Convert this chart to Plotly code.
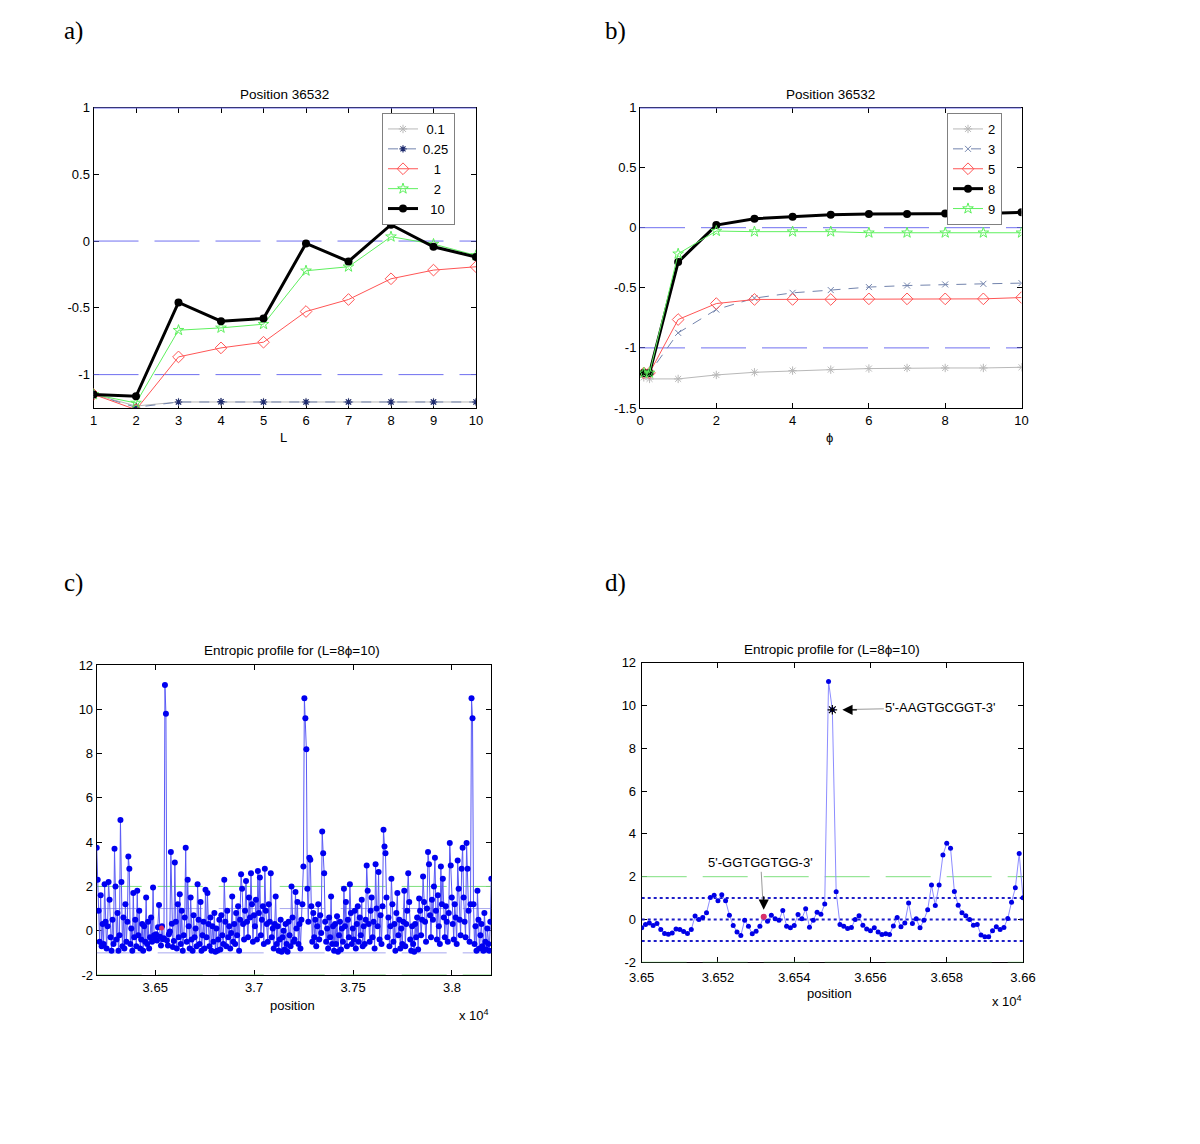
import plotly.graph_objects as go

W, H = 1200, 1144
OX, OY = 8, 8  # page body margin offset
FONT = "Liberation Sans, Arial, sans-serif"
SERIF = "Liberation Serif, Times New Roman, serif"
FS = 13

# ---------------- data ----------------
# panel a : x = L, one series per phi
L_vals = [1, 2, 3, 4, 5, 6, 7, 8, 9, 10]
a_names = ["\u00a00.1", "0.25", "\u00a0\u00a0\u00a01", "\u00a0\u00a0\u00a02", "\u00a0\u00a010"]
a_phi_01 = [-1.148, -1.235, -1.205, -1.205, -1.205, -1.205, -1.205, -1.205, -1.205, -1.205]
a_phi_025 = [-1.148, -1.245, -1.205, -1.203, -1.205, -1.205, -1.205, -1.205, -1.205, -1.205]
a_phi_1 = [-1.148, -1.2625, -0.8675, -0.80, -0.7575, -0.5275, -0.4375, -0.2825, -0.2175, -0.1925]
a_phi_2 = [-1.148, -1.2125, -0.6675, -0.65, -0.6225, -0.2225, -0.1925, 0.0325, -0.0225, -0.1075]
a_phi_10 = [-1.148, -1.1625, -0.46, -0.60, -0.58, -0.0175, -0.1525, 0.1225, -0.0425, -0.12]
a_yticks = [-1, -0.5, 0, 0.5, 1]
a_yticktext = ["-1", "-0.5", "0", "0.5", "1"]
a_yrange = [-1.25, 1]
a_ref_levels = [0, -1]
a_top_level = 1

# panel b : x = phi, one series per L
phi_vals = [0.1, 0.25, 1, 2, 3, 4, 5, 6, 7, 8, 9, 10]
b_names = ["2", "3", "5", "8", "9"]
b_L2 = [-1.245, -1.258, -1.258, -1.225, -1.203, -1.189, -1.181, -1.172, -1.167, -1.167, -1.167, -1.161]
b_L3 = [-1.208, -1.208, -0.875, -0.681, -0.586, -0.542, -0.519, -0.494, -0.481, -0.472, -0.467, -0.461]
b_L5 = [-1.208, -1.208, -0.764, -0.631, -0.597, -0.597, -0.597, -0.592, -0.592, -0.592, -0.592, -0.581]
b_L8 = [-1.208, -1.208, -0.286, 0.022, 0.075, 0.092, 0.108, 0.114, 0.114, 0.119, 0.119, 0.128]
b_L9 = [-1.208, -1.208, -0.217, -0.028, -0.033, -0.033, -0.033, -0.042, -0.042, -0.042, -0.042, -0.042]
b_xrange = [0, 10]
b_xticks = [0, 2, 4, 6, 8, 10]
b_yticks = [-1.5, -1, -0.5, 0, 0.5, 1]
b_yticktext = ["-1.5", "-1", "-0.5", "0", "0.5", "1"]
b_yrange = [-1.5, 1]

# panel c : entropic profile 36204..38199 (every 5th position)
c_start = 36204
c_step = 5
c_vals = [
    3.75, 2.3, 0.9, -0.5, 1.6, -0.7, 0.3, -0.6, 2.1, 0.4,
    -0.8, 0.2, 2.2, 1.4, -0.3, -0.9, 0.5, -0.6, 3.7, 2.0,
    -0.4, 0.8, -0.9, -0.2, 5.0, 2.2, -0.7, 0.6, -0.8, 1.2,
    -0.5, 0.4, 3.35, 2.8, -0.6, 0.1, -0.9, 1.7, -0.3, 0.5,
    -0.7, 1.8, -0.2, 0.9, -0.8, -0.4, 0.3, -0.9, 0.2, -0.5,
    1.5, -0.6, 0.4, -0.8, -0.3, 0.6, -0.5, 1.95, -0.2, -0.4,
    -0.16, -0.44, 0.16, 1.16, -0.27, -0.67, 0.2, -0.39, -0.34, 11.1,
    9.8, -0.44, -0.67, -0.16, -0.03, 3.56, 0.31, -0.73, -0.47, 3.08,
    0.4, -0.8, 1.2, -0.3, 1.65, -0.6, 0.9, -0.9, -0.2, 0.6,
    3.75, -0.5, 2.3, 0.2, -0.8, 1.5, -0.4, -0.9, 0.7, -0.3,
    0.1, -0.7, 2.1, 0.5, -0.6, 1.3, -0.9, -0.2, 0.4, -0.8,
    1.85, -0.3, 1.7, 0.3, -0.7, 0.6, -0.9, 0.2, -0.5, 0.8,
    -0.95, 0.1, -0.9, -0.4, 0.5, -0.85, 0.7, -0.2, -0.6, 2.3,
    0.4, -0.7, 0.9, -0.3, 0.2, -0.8, -0.1, 1.55, -0.5, 0.3,
    -0.6, 0.8, -0.2, 1.1, -0.9, 0.5, 2.55, 1.9, 0.3, -0.4,
    0.9, 2.25, 0.4, -0.3, 1.5, 0.6, 2.6, 1.2, -0.5, 0.7,
    0.2, 1.4, -0.4, 2.7, 0.8, 2.4, -0.2, 0.5, 1.1, -0.6,
    2.8, 0.9, 0.3, -0.5, 1.2, 0.4, 2.6, -0.3, 0.1, -0.8,
    0.3, 1.55, -0.6, 0.2, -0.9, -0.4, 0.5, -0.95, -0.3, 0.0,
    -0.85, 0.3, -0.6, -0.95, 0.4, -0.2, -0.7, 2.0, 0.6, -0.5,
    -0.4, 1.75, 0.1, 1.3, -0.6, 0.3, -0.8, 0.5, 1.2, 2.9,
    10.5, 9.6, 8.2, 1.9, 0.4, 3.3, 3.2, 1.1, -0.5, 0.8,
    -0.3, 0.5, -0.7, 0.2, 1.2, -0.4, 0.7, -0.1, 4.48, 3.5,
    2.6, 0.4, -0.5, 0.1, -0.8, 0.6, -0.3, 1.55, -0.6, 0.2,
    -0.9, 0.3, -0.6, 0.65, -0.95, -0.2, 0.4, -0.85, 0.1, -0.5,
    1.9, 0.2, 1.3, -0.7, 0.5, -0.3, 2.1, 0.8, -0.6, 0.1,
    -0.4, 0.9, -0.8, 0.3, 1.1, -0.5, 0.6, -0.2, 1.4, -0.7,
    0.2, -0.6, 0.5, 2.95, 1.8, 0.3, -0.5, 0.9, 1.5, -0.3,
    0.4, -0.8, 3.0, 1.0, 0.2, 2.65, -0.4, 0.7, -0.6, 1.1,
    4.56, 3.8, 3.5, 1.5, -0.3, 0.6, -0.7, 0.2, 2.35, 1.2,
    -0.5, 0.3, -0.9, 0.8, 1.7, -0.2, 0.5, -0.8, 0.1, -0.6,
    0.4, 1.8, -0.7, 0.3, 0.9, 2.6, 1.3, -0.4, -0.9, 0.2,
    -0.6, -0.95, 0.3, -0.3, 0.6, -0.85, 1.45, 0.9, -0.2, 0.5,
    2.45, 1.3, 0.4, -0.5, 1.0, 3.55, 3.0, 0.7, -0.3, 1.4,
    0.5, 2.0, 3.3, 0.9, -0.4, 1.6, 0.2, -0.6, 2.9, 1.2,
    2.35, 0.6, -0.3, 1.1, 0.4, -0.5, 0.8, 3.96, 2.95, 1.5,
    0.3, -0.4, 1.2, 0.6, -0.6, 3.17, 1.9, 0.5, -0.2, 2.8,
    3.75, 1.5, 0.4, -0.3, 3.96, 2.8, 0.9, -0.5, 1.2, 10.5,
    9.6, 1.2, -0.6, 0.2, -0.9, 1.8, 0.5, -0.8, -0.2, 0.3,
    -0.7, -0.9, 0.8, -0.5, -0.85, 0.1, -0.6, -0.9, 0.4, 2.35,
]
c_xticks = [36500, 37000, 37500, 38000]
c_xticktext = ["3.65", "3.7", "3.75", "3.8"]
c_green_levels = [2, -2]
c_blue_levels = [1, -1]

# panel d : entropic profile 36500..36600 (every position)
d_start = 36500
d_vals = [
    -0.39, -0.23, -0.16, -0.28, -0.19, -0.47, -0.66, -0.69, -0.63, -0.44,
    -0.47, -0.56, -0.66, -0.47, 0.16, 0.0, 0.09, 0.31, 1.03, 1.13,
    0.88, 1.16, 0.88, 0.20, -0.28, -0.58, -0.75, -0.03, -0.31, -0.67,
    -0.55, -0.31, 0.125, -0.08, 0.20, 0.03, -0.03, 0.42, -0.31, -0.39,
    -0.28, 0.23, 0.03, 0.50, -0.36, -0.03, 0.34, 0.25, 0.72, 11.12,
    9.80, 1.30, -0.23, -0.31, -0.42, -0.375, 0.0, 0.17, -0.27, -0.44,
    -0.53, -0.39, -0.58, -0.70, -0.67, -0.70, -0.30, 0.09, -0.34, -0.16,
    0.77, -0.19, 0.03, -0.39, -0.03, 0.45, 1.61, 0.66, 1.61, 3.01,
    3.56, 3.33, 1.31, 0.67, 0.31, 0.17, 0.0, -0.27, -0.23, -0.73,
    -0.81, -0.81, -0.53, -0.34, -0.47, -0.375, 0.05, 0.81, 1.48, 3.08,
    1.02,
]
d_xticks = [36500, 36520, 36540, 36560, 36580, 36600]
d_xticktext = ["3.65", "3.652", "3.654", "3.656", "3.658", "3.66"]
d_green_levels = [2, -2]
d_dot_levels = [1, 0, -1]
cd_yticks = [-2, 0, 2, 4, 6, 8, 10, 12]
cd_yticktext = ["-2", "0", "2", "4", "6", "8", "10", "12"]
cd_yrange = [-2, 12]

motif_pos = [36532, 36550]
motif_labels = ["5'-GGTGGTGG-3'", "5'-AAGTGCGGT-3'"]

# ---------------- helpers ----------------
def fx(p):
    return (p - OX) / W

def fy(p):
    return 1 - (p - OY) / H

c_x = [c_start + c_step * i for i in range(len(c_vals))]
d_x = [d_start + i for i in range(len(d_vals))]

fig = go.Figure()

REFBLUE = "#6f6ff0"
GRAY = "#b8b8b8"
NAVY = "#1e2b6e"
SLATE = "#7384ad"
RED = "#ff5555"
GREEN = "#5ef05e"


def hline(levels, xr, xa, ya, color, dash, width=1):
    for lv in levels:
        fig.add_trace(go.Scatter(x=[xr[0], xr[-1]], y=[lv, lv], mode="lines",
                                 line=dict(color=color, width=width, dash=dash),
                                 showlegend=False, hoverinfo="skip",
                                 xaxis=xa, yaxis=ya))

# ---------- panel a ----------
hline(a_ref_levels, L_vals, "x", "y", REFBLUE, "45px,16px")
hline([a_top_level], L_vals, "x", "y", REFBLUE, "solid", 2)
a_series = [a_phi_01, a_phi_025, a_phi_1, a_phi_2, a_phi_10]
a_styles = [
    dict(line=dict(color=GRAY, width=1), marker=dict(symbol="asterisk-open", size=7, color=GRAY, line=dict(width=1, color=GRAY))),
    dict(line=dict(color=SLATE, width=1, dash="10px,8px"), marker=dict(symbol="asterisk-open", size=6, color=NAVY, line=dict(width=1.2, color=NAVY))),
    dict(line=dict(color=RED, width=1), marker=dict(symbol="diamond-open", size=9, color=RED, line=dict(width=1, color=RED))),
    dict(line=dict(color=GREEN, width=1), marker=dict(symbol="star-open", size=8, color=GREEN, line=dict(width=1, color=GREEN))),
    dict(line=dict(color="black", width=3), marker=dict(symbol="circle", size=8, color="black")),
]
for name, ys, st in zip(a_names, a_series, a_styles):
    fig.add_trace(go.Scatter(x=L_vals, y=ys, mode="lines+markers", name=name,
                             legend="legend", xaxis="x", yaxis="y", **st))

# ---------- panel b ----------
hline(a_ref_levels, b_xrange, "x2", "y2", REFBLUE, "45px,16px")
hline([a_top_level], b_xrange, "x2", "y2", REFBLUE, "solid", 2)
b_series = [b_L2, b_L3, b_L5, b_L8, b_L9]
b_styles = [
    dict(line=dict(color=GRAY, width=1), marker=dict(symbol="asterisk-open", size=7, color=GRAY, line=dict(width=1, color=GRAY))),
    dict(line=dict(color=SLATE, width=1, dash="10px,8px"), marker=dict(symbol="x-thin-open", size=6, color=SLATE, line=dict(width=1, color=SLATE))),
    dict(line=dict(color=RED, width=1), marker=dict(symbol="diamond-open", size=9, color=RED, line=dict(width=1, color=RED))),
    dict(line=dict(color="black", width=3), marker=dict(symbol="circle", size=8, color="black")),
    dict(line=dict(color=GREEN, width=1), marker=dict(symbol="star-open", size=8, color=GREEN, line=dict(width=1, color=GREEN))),
]
for name, ys, st in zip(b_names, b_series, b_styles):
    fig.add_trace(go.Scatter(x=phi_vals, y=ys, mode="lines+markers", name=name,
                             legend="legend2", xaxis="x2", yaxis="y2", **st))

# ---------- panel c ----------
hline(c_green_levels, c_x, "x3", "y3", "#7fe07f", "45px,16px")
hline(c_blue_levels, c_x, "x3", "y3", "#a8a8ee", "45px,16px")
fig.add_trace(go.Scatter(x=c_x, y=c_vals, mode="lines+markers", showlegend=False,
                         line=dict(color="#5a5af5", width=1),
                         marker=dict(symbol="circle", size=6, color="#0000f0"),
                         xaxis="x3", yaxis="y3"))
fig.add_trace(go.Scatter(x=[motif_pos[0]], y=[d_vals[motif_pos[0] - d_start]], mode="markers",
                         showlegend=False, marker=dict(size=5, color="#d8306a"),
                         xaxis="x3", yaxis="y3"))

# ---------- panel d ----------
hline(d_green_levels, d_x, "x4", "y4", "#7fe07f", "45px,16px")
hline(d_dot_levels, d_x, "x4", "y4", "#1d1dc8", "dot", 2)
fig.add_trace(go.Scatter(x=d_x, y=d_vals, mode="lines+markers", showlegend=False,
                         line=dict(color="#8c8cff", width=1),
                         marker=dict(symbol="circle", size=5, color="#0000e6"),
                         xaxis="x4", yaxis="y4"))
fig.add_trace(go.Scatter(x=[motif_pos[0]], y=[d_vals[motif_pos[0] - d_start]], mode="markers",
                         showlegend=False, marker=dict(size=6, color="#d8306a"),
                         xaxis="x4", yaxis="y4"))
fig.add_trace(go.Scatter(x=[motif_pos[1]], y=[d_vals[motif_pos[1] - d_start]], mode="markers",
                         showlegend=False,
                         marker=dict(symbol="asterisk-open", size=8, color="black", line=dict(width=1.2, color="black")),
                         xaxis="x4", yaxis="y4"))

# ---------------- axes ----------------
def axis(domain, rng, tickvals, ticktext=None, anchor=None, standoff=None):
    d = dict(domain=domain, range=rng, tickvals=tickvals, ticks="inside", ticklen=5,
             tickcolor="black", showline=True, linecolor="black", linewidth=1,
             mirror="ticks", showgrid=False, zeroline=False, anchor=anchor,
             automargin=False,
             tickfont=dict(family=FONT, size=FS, color="black"), layer="below traces")
    if ticktext is not None:
        d["ticktext"] = ticktext
    if standoff is not None:
        d["ticklabelstandoff"] = standoff
    return d

top_ab, bot_ab = 107.5, 408
fig.update_layout(
    xaxis=axis([fx(93.5), fx(476)], [L_vals[0], L_vals[-1]], L_vals, None, "y"),
    yaxis=axis([fy(bot_ab), fy(top_ab)], a_yrange, a_yticks, a_yticktext, "x"),
    xaxis2=axis([fx(640), fx(1021.5)], b_xrange, b_xticks, None, "y2"),
    yaxis2=axis([fy(bot_ab), fy(top_ab)], b_yrange, b_yticks, b_yticktext, "x2"),
    xaxis3=axis([fx(96.7), fx(491.3)], [c_x[0], c_x[-1]], c_xticks, c_xticktext, "y3"),
    yaxis3=axis([fy(975), fy(665)], cd_yrange, cd_yticks, cd_yticktext, "x3"),
    xaxis4=axis([fx(641.7), fx(1023)], [d_x[0], d_x[-1]], d_xticks, d_xticktext, "y4", 3),
    yaxis4=axis([fy(962.3), fy(662.7)], cd_yrange, cd_yticks, cd_yticktext, "x4", 2),
)

legend_style = dict(xanchor="left", yanchor="top", bgcolor="white", bordercolor="#808080",
                    borderwidth=1, font=dict(family=FONT, size=FS, color="black"),
                    itemwidth=30, tracegroupgap=0)
fig.update_layout(
    legend=dict(x=fx(382), y=fy(113), **legend_style),
    legend2=dict(x=fx(947), y=fy(113), **legend_style),
)

# ---------------- text ----------------
ann = []

def text(x, y, s, size=FS, family=FONT, xanchor="center"):
    ann.append(dict(x=fx(x), y=fy(y), xref="paper", yref="paper", text=s, showarrow=False,
                    xanchor=xanchor, yanchor="middle", font=dict(family=family, size=size, color="black")))

text(62, 31, "a)", 25, SERIF, "left")
text(603, 31, "b)", 25, SERIF, "left")
text(62, 583, "c)", 25, SERIF, "left")
text(603, 583, "d)", 25, SERIF, "left")
text(284.5, 95, "Position 36532", 13.5)
text(830.5, 95, "Position 36532", 13.5)
text(292, 650, "Entropic profile for (L=8\u03d5=10)", 13.5)
text(832, 649, "Entropic profile for (L=8\u03d5=10)", 13.5)
text(283, 437, "L")
text(829, 438, "\u03d5")
text(292, 1005, "position")
text(829, 993, "position")
text(491, 1015, "x 10<sup>4</sup>", FS, FONT, "right")
text(1024, 1001, "x 10<sup>4</sup>", FS, FONT, "right")

# motif annotations in panel d (gray shaft + black head)
g_pos, a_pos = motif_pos
g_y = d_vals[g_pos - d_start]
a_y = d_vals[a_pos - d_start]
ann.append(dict(x=g_pos, y=g_y, xref="x4", yref="y4", text=motif_labels[0], ax=-3, ay=-54,
                showarrow=True, arrowhead=0, arrowcolor="#9a9a9a", arrowwidth=1, standoff=14,
                font=dict(family=FONT, size=FS, color="black")))
ann.append(dict(x=g_pos, y=g_y, xref="x4", yref="y4", text="", ax=0, ay=-22,
                showarrow=True, arrowhead=2, arrowsize=1.7, arrowcolor="black", arrowwidth=1.2, standoff=7))
ann.append(dict(x=a_pos, y=a_y, xref="x4", yref="y4", text=motif_labels[1], ax=108, ay=-2,
                showarrow=True, arrowhead=0, arrowcolor="#9a9a9a", arrowwidth=1, standoff=16,
                font=dict(family=FONT, size=FS, color="black")))
ann.append(dict(x=a_pos, y=a_y, xref="x4", yref="y4", text="", ax=26, ay=0,
                showarrow=True, arrowhead=2, arrowsize=1.7, arrowcolor="black", arrowwidth=1.2, standoff=10))

fig.update_layout(
    annotations=ann,
    width=W, height=H,
    margin=dict(l=0, r=0, t=0, b=0, pad=0, autoexpand=False),
    paper_bgcolor="white", plot_bgcolor="white",
    font=dict(family=FONT, size=FS, color="black"),
)

fig.write_html("out.html")
